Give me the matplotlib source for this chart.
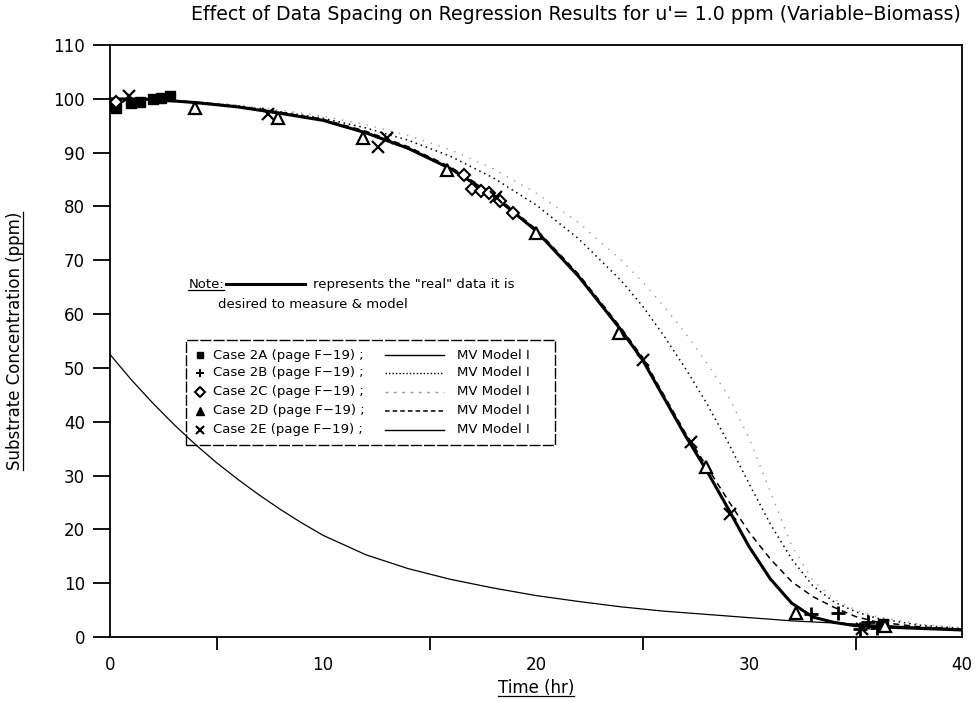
import matplotlib
matplotlib.use("Agg")
import matplotlib.pyplot as plt
from matplotlib.lines import Line2D
from matplotlib.patches import Rectangle

plt.rcParams['font.family'] = ['DejaVu Sans']

# ---------------- data ----------------
title = "Effect of Data Spacing on Regression Results for u'= 1.0 ppm (Variable\u2013Biomass)"
x_label = "Time (hr)"
y_label = "Substrate Concentration (ppm)"
x_ticks = [0, 10, 20, 30, 40]
x_minor = [5, 15, 25, 35]
y_ticks = [0, 10, 20, 30, 40, 50, 60, 70, 80, 90, 100, 110]

model_t = [0, 2, 4, 6, 8, 10, 12, 14, 16, 18, 20, 22, 24, 25, 26, 27, 28, 29, 30,
           31, 32, 33, 34, 35, 36, 38, 40]
real_data = [100, 99.9, 99.3, 98.5, 97.3, 96.0, 93.7, 90.8, 87.0, 82.0, 75.5, 67.0,
             57.0, 51.5, 44.5, 37.5, 31.0, 24.0, 16.8, 10.8, 6.3, 3.7, 2.7, 2.1, 1.9,
             1.6, 1.3]
model_2b = [100, 99.9, 99.4, 98.7, 97.6, 96.4, 94.6, 92.3, 89.3, 85.3, 80.3, 74.0,
            66.2, 61.5, 56.0, 50.0, 43.5, 36.3, 28.5, 21.0, 14.5, 9.5, 6.5, 4.7, 3.5,
            2.2, 1.6]
model_2c = [100, 99.9, 99.5, 98.9, 97.9, 96.8, 95.2, 93.2, 90.5, 87.0, 82.5, 77.0,
            70.0, 66.0, 61.5, 56.5, 51.0, 45.0, 37.0, 27.0, 17.0, 10.5, 7.0, 5.0, 3.8,
            2.4, 1.7]
model_2d = [100, 99.9, 99.4, 98.6, 97.5, 96.2, 94.0, 91.1, 87.3, 82.3, 75.8, 67.4,
            57.4, 52.0, 45.0, 38.0, 31.8, 25.5, 19.5, 14.5, 10.3, 7.5, 5.5, 3.8, 2.8,
            1.9, 1.4]
model_2e = [100, 99.9, 99.3, 98.5, 97.3, 96.0, 93.6, 90.7, 86.9, 81.9, 75.4, 67.0,
            57.0, 51.5, 44.6, 37.6, 31.1, 24.1, 16.9, 10.9, 6.4, 3.8, 2.8, 2.2, 1.9,
            1.6, 1.3]

model_2a_t = [0, 1, 2, 3, 4, 5, 6, 7, 8, 9, 10, 12, 14, 16, 18, 20, 22, 24, 26, 28,
              30, 32, 34, 36, 38, 40]
model_2a = [52.5, 47.8, 43.5, 39.5, 35.8, 32.4, 29.3, 26.4, 23.7, 21.2, 18.9, 15.3,
            12.7, 10.7, 9.1, 7.7, 6.6, 5.6, 4.8, 4.2, 3.6, 3.0, 2.6, 2.2, 1.8, 1.5]

case_2a_t = [0.0, 0.3, 1.0, 1.4, 2.0, 2.4, 2.8, 36.3]
case_2a_s = [99.0, 98.3, 99.2, 99.5, 100.0, 100.2, 100.5, 2.5]
case_2b_t = [32.9, 34.2, 35.2, 35.6, 36.0]
case_2b_s = [4.3, 4.5, 1.5, 2.8, 1.6]
case_2c_t = [0.3, 16.6, 17.0, 17.4, 17.8, 18.3, 18.9]
case_2c_s = [99.5, 85.8, 83.3, 82.8, 82.5, 81.0, 78.8]
case_2d_t = [4.0, 7.9, 11.9, 15.8, 20.0, 23.9, 28.0, 32.2, 36.4]
case_2d_s = [98.3, 96.5, 92.8, 86.8, 75.0, 56.5, 31.5, 4.5, 2.0]
case_2e_t = [0.9, 7.4, 12.6, 13.0, 18.1, 25.0, 27.3, 29.1, 35.3]
case_2e_s = [100.5, 97.2, 91.0, 92.8, 81.8, 51.5, 36.2, 22.8, 1.5]

case_labels = ["Case 2A (page F\u221219) ;", "Case 2B (page F\u221219) ;",
               "Case 2C (page F\u221219) ;", "Case 2D (page F\u221219) ;",
               "Case 2E (page F\u221219) ;"]
model_label = "MV Model I"
note_text_1 = "represents the \"real\" data it is"
note_text_2 = "desired to measure & model"

# ---------------- figure ----------------
fig = plt.figure(figsize=(9.8, 7.02), dpi=100)
ax = fig.add_axes([110/980, 1-637/702, (962-110)/980, (637-45)/702])
ax.set_xlim(0, 40)
ax.set_ylim(0, 110)

ax.plot(model_2a_t, model_2a, color='black', lw=0.9)
ax.plot(model_t, model_2b, color='black', lw=1.1, linestyle=(0, (1, 2.5)))
ax.plot(model_t, model_2c, color='0.6', lw=1.0, linestyle=(0, (1, 5)))
ax.plot(model_t, model_2d, color='black', lw=1.1, linestyle=(0, (4, 3)))
ax.plot(model_t, model_2e, color='black', lw=0.9)
ax.plot(model_t, real_data, color='black', lw=2.2)

ax.plot(case_2a_t, case_2a_s, 's', color='black', ms=7, ls='none')
ax.plot(case_2b_t, case_2b_s, '+', color='black', ms=10, mew=2, ls='none')
ax.plot(case_2c_t, case_2c_s, 'D', mfc='white', mec='black', ms=6, mew=1.5, ls='none')
ax.plot(case_2d_t, case_2d_s, '^', mfc='white', mec='black', ms=8, mew=1.6, ls='none')
ax.plot(case_2e_t, case_2e_s, 'x', color='black', ms=9, mew=1.6, ls='none')

for sp in ax.spines.values():
    sp.set_linewidth(1.3)

ax.set_yticks(y_ticks)
ax.set_yticklabels([str(v) for v in y_ticks])
ax.set_xticks(x_ticks)
ax.set_xticklabels([str(v) for v in x_ticks])
ax.set_xticks(x_minor, minor=True)
ax.tick_params(axis='y', which='major', direction='out', length=12, width=1.3,
               labelsize=12, pad=6)
ax.tick_params(axis='x', which='major', direction='out', length=0,
               labelsize=12, pad=14)
ax.tick_params(axis='x', which='minor', direction='out', length=9, width=1.3)

fig.text(576/980, 1-15/702, title, ha='center', va='center', fontsize=13.7)
xl = fig.text(536/980, 1-688/702, x_label, ha='center', va='center', fontsize=12)
yl = fig.text(15/980, 1-341/702, y_label, ha='center', va='center', fontsize=12,
              rotation=90)

# ---------------- legend / note ----------------
tr = ax.transAxes
note = ax.text(0.092, 0.595, "Note:", transform=tr, ha='left', va='center', fontsize=9.5)
ax.add_line(Line2D([0.136, 0.229], [0.597, 0.597], transform=tr, color='black', lw=2.2))
ax.text(0.238, 0.595, note_text_1, transform=tr, ha='left', va='center', fontsize=9.5)
ax.text(0.127, 0.561, note_text_2, transform=tr, ha='left', va='center', fontsize=9.5)

ax.add_patch(Rectangle((0.089, 0.324), 0.433, 0.178, transform=tr, fill=False,
                       ec='black', lw=1.0, linestyle=(0, (8, 1.5))))
row_y = [0.476, 0.446, 0.414, 0.382, 0.350]
leg_markers = [dict(marker='s', color='black', ms=5),
               dict(marker='P', color='black', ms=6, mew=0),
               dict(marker='D', mfc='white', mec='black', ms=5, mew=1.5),
               dict(marker='^', color='black', ms=6),
               dict(marker='x', color='black', ms=6, mew=1.6)]
leg_lines = [dict(color='black', lw=1.0, ls='-'),
             dict(color='black', lw=1.0, ls=(0, (1, 1.5))),
             dict(color='0.6', lw=1.0, ls=(0, (2, 4))),
             dict(color='black', lw=1.1, ls=(0, (3, 2))),
             dict(color='black', lw=1.0, ls='-')]
for yy, lab, mk, ln in zip(row_y, case_labels, leg_markers, leg_lines):
    ax.plot([0.106], [yy], transform=tr, ls='none', clip_on=False, **mk)
    ax.text(0.121, yy, lab, transform=tr, ha='left', va='center', fontsize=9.5)
    ax.add_line(Line2D([0.323, 0.392], [yy, yy], transform=tr, **ln))
    ax.text(0.407, yy, model_label, transform=tr, ha='left', va='center', fontsize=9.5)

# ---------------- underlines ----------------
fig.canvas.draw()
r = fig.canvas.get_renderer()
inv = fig.transFigure.inverted()
for t in (xl, note):
    bb = t.get_window_extent(r)
    (x0, y0), (x1, y1) = inv.transform([(bb.x0, bb.y0 + 1), (bb.x1, bb.y1)])
    fig.add_artist(Line2D([x0, x1], [y0, y0], transform=fig.transFigure, color='black', lw=0.9))
bb = yl.get_window_extent(r)
(x0, y0), (x1, y1) = inv.transform([(bb.x0, bb.y0), (bb.x1 - 1, bb.y1)])
fig.add_artist(Line2D([x1, x1], [y0, y1], transform=fig.transFigure, color='black', lw=0.9))

fig.savefig("out.png", dpi=100)
